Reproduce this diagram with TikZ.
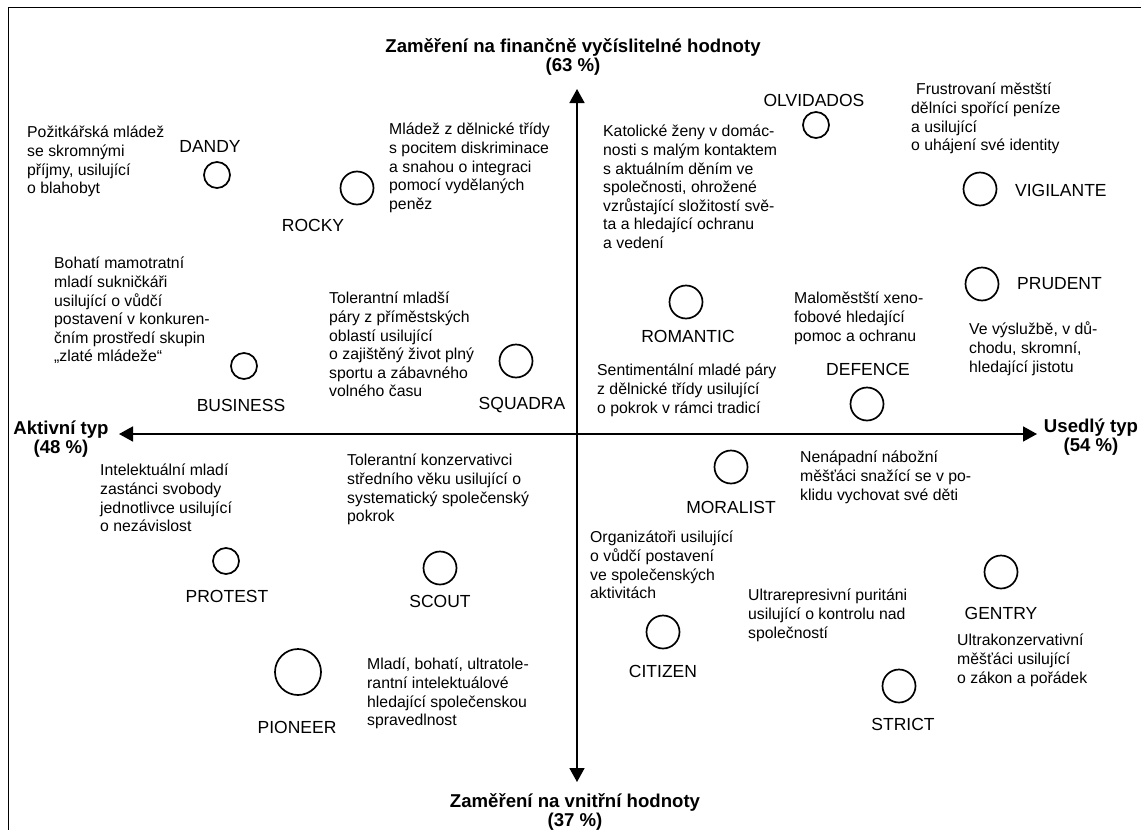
\documentclass[tikz,border=0pt]{standalone}
\usepackage{fontspec}
\setmainfont{Liberation Sans}
\usetikzlibrary{arrows.meta}
\tikzset{kruh/.style = {circle, draw, line width=1.7pt, inner sep=0pt, minimum size=33pt},
         maly/.style = {kruh, minimum size=26pt},
         velky/.style = {kruh, minimum size=46pt},
         nazev/.style = {font=\fontsize{17.5}{20}\selectfont, inner sep=0pt},
         popis/.style = {font=\fontsize{15.8}{18.6}\selectfont, align=left,
                         anchor=north west, inner sep=0pt},
         osa/.style = {line width=1.7pt,
                       {Triangle[length=14pt,width=15pt]}-{Triangle[length=14pt,width=15pt]}},
         osapopis/.style = {font=\fontsize{18.6}{19.5}\selectfont\bfseries, align=center,
                            inner sep=0pt}}

\begin{document}
\begin{tikzpicture}[x=1pt, y=-1pt]
      \useasboundingbox (0,0) rectangle (1141,830);
      \draw [line width=1pt] (8,830) -- (8,7) -- (1141,7);
      \coordinate (nahore) at (577,89);
      \coordinate (dole) at (577,782);
      \coordinate (vlevo) at (119,434);
      \coordinate (vpravo) at (1037,434);
      \draw [osa] (dole) -- (nahore);
      \draw [osa] (vlevo) -- (vpravo);
      \node [osapopis] (finance) at (573,57) {Zaměření na finančně vyčíslitelné hodnoty\\(63 \%)};
      \node [osapopis] (vnitrni) at (575,812) {Zaměření na vnitřní hodnoty\\(37 \%)};
      \node [osapopis] (aktivni) at (61,439) {Aktivní typ\\(48 \%)};
      \node [osapopis] (usedly) at (1091,437) {Usedlý typ\\(54 \%)};

      \node [maly] (dandy) at (217,175) {};
      \node [nazev] (dandy-n) at (210,146) {DANDY};
      \node [popis] (dandy-p) at (27,126) {Požitkářská mládež\\se skromnými\\příjmy, usilující\\o blahobyt};
      \node [kruh] (rocky) at (357,188) {};
      \node [nazev] (rocky-n) at (313,225) {ROCKY};
      \node [popis] (rocky-p) at (389,123) {Mládež z dělnické třídy\\s pocitem diskriminace\\a snahou o integraci\\pomocí vydělaných\\peněz};
      \node [maly] (olvidados) at (816,125) {};
      \node [nazev] (olvidados-n) at (814,100) {OLVIDADOS};
      \node [popis] (romantic-p) at (603,125) {Katolické ženy v domác-\\nosti s malým kontaktem\\s aktuálním děním ve\\společnosti, ohrožené\\vzrůstající složitostí svě-\\ta a hledající ochranu\\a vedení};
      \node [popis] (vigilante-p) at (911,83) {\hspace*{5pt}Frustrovaní městští\\dělníci spořící peníze\\a usilující\\o uhájení své identity};
      \node [kruh] (vigilante) at (980,189) {};
      \node [nazev, anchor=west] (vigilante-n) at (1015,190) {VIGILANTE};
      \node [kruh] (prudent) at (982,284) {};
      \node [nazev, anchor=west] (prudent-n) at (1017,284) {PRUDENT};
      \node [popis] (prudent-p) at (969,322) {Ve výslužbě, v dů-\\chodu, skromní,\\hledající jistotu};
      \node [kruh] (romantic) at (686,302) {};
      \node [nazev] (romantic-n) at (688,336) {ROMANTIC};
      \node [popis] (defence-p) at (794,292) {Maloměstští xeno-\\fobové hledající\\pomoc a ochranu};
      \node [nazev] (defence-n) at (868,369) {DEFENCE};
      \node [kruh] (defence) at (867,404) {};
      \node [popis] (romantic-p2) at (597,364) {Sentimentální mladé páry\\z dělnické třídy usilující\\o pokrok v rámci tradicí};

      \node [popis] (business-p) at (54,257) {Bohatí mamotratní\\mladí sukničkáři\\usilující o vůdčí\\postavení v konkuren-\\čním prostředí skupin\\„zlaté mládeže“};
      \node [maly] (business) at (244,366) {};
      \node [nazev] (business-n) at (241,405) {BUSINESS};
      \node [popis] (squadra-p) at (329,292) {Tolerantní mladší\\páry z příměstských\\oblastí usilující\\o zajištěný život plný\\sportu a zábavného\\volného času};
      \node [kruh] (squadra) at (516,361) {};
      \node [nazev] (squadra-n) at (522,405) {SQUADRA};

      \node [popis] (protest-p) at (100,464) {Intelektuální mladí\\zastánci svobody\\jednotlivce usilující\\o nezávislost};
      \node [maly] (protest) at (226,561) {};
      \node [nazev] (protest-n) at (227,596) {PROTEST};
      \node [popis] (scout-p) at (347,454) {Tolerantní konzervativci\\středního věku usilující o\\systematický společenský\\pokrok};
      \node [kruh] (scout) at (440,568) {};
      \node [nazev] (scout-n) at (440,601) {SCOUT};
      \node [velky] (pioneer) at (298,672) {};
      \node [nazev] (pioneer-n) at (297,727) {PIONEER};
      \node [popis] (pioneer-p) at (367,658) {Mladí, bohatí, ultratole-\\rantní intelektuálové\\hledající společenskou\\spravedlnost};

      \node [kruh] (moralist) at (731,467) {};
      \node [nazev] (moralist-n) at (731,507) {MORALIST};
      \node [popis] (moralist-p) at (800,451) {Nenápadní nábožní\\měšťáci snažící se v po-\\klidu vychovat své děti};
      \node [popis] (citizen-p) at (590,531) {Organizátoři usilující\\o vůdčí postavení\\ve společenských\\aktivitách};
      \node [kruh] (citizen) at (663,632) {};
      \node [nazev] (citizen-n) at (663,671) {CITIZEN};
      \node [popis] (strict-p) at (748,589) {Ultrarepresivní puritáni\\usilující o kontrolu nad\\společností};
      \node [kruh] (gentry) at (1001,572) {};
      \node [nazev] (gentry-n) at (1001,613) {GENTRY};
      \node [popis] (gentry-p) at (957,634) {Ultrakonzervativní\\měšťáci usilující\\o zákon a pořádek};
      \node [kruh] (strict) at (899,686) {};
      \node [nazev] (strict-n) at (903,724) {STRICT};
    \end{tikzpicture}
\end{document}
